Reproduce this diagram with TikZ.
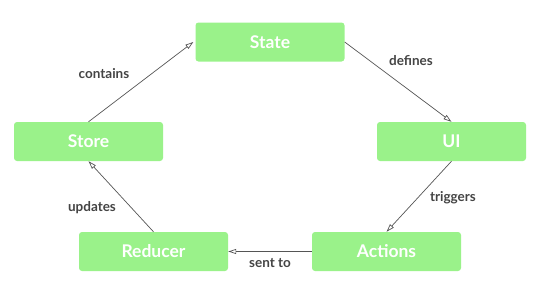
\documentclass[tikz,border=0pt]{standalone}
\usepackage{fontspec}
\setmainfont{Lato}
\usetikzlibrary{arrows.meta}
\definecolor{boxgreen}{HTML}{9AF28A}
\definecolor{labelgray}{HTML}{444444}
\definecolor{linegray}{HTML}{555555}
\tikzset{
  box/.style={draw=none, fill=boxgreen, rounded corners=3pt, minimum width=149pt, minimum height=39pt, inner sep=0pt, text=white, font=\fontsize{17.5}{20}\selectfont\bfseries},
  conn/.style={draw=linegray, line width=0.7pt, -{Triangle[open, length=8pt, width=5pt]}},
  lbl/.style={text=labelgray, font=\fontsize{13.5}{16}\selectfont\bfseries, inner sep=0pt}
}
\begin{document}
\begin{tikzpicture}[x=1pt,y=-1pt]
\useasboundingbox (0,0) rectangle (541,295);
\node[box] (state) at (270,42) {State};
\node[box] (store) at (88.5,141.5) {Store};
\node[box] (ui) at (451.5,141.5) {UI};
\node[box] (reducer) at (153.5,251.5) {Reducer};
\node[box] (actions) at (386.5,251.5) {Actions};
\draw[conn] (store.north) -- ([xshift=-2pt]state.west);
\draw[conn] (state.east) -- (ui.north);
\draw[conn] (ui.south) -- (actions.north);
\draw[conn] (actions.west) -- (reducer.east);
\draw[conn] (reducer.north) -- (store.south);
\node[lbl] (l1) at (104,74) {contains};
\node[lbl] (l2) at (411,61) {defines};
\node[lbl] (l3) at (453,198) {triggers};
\node[lbl] (l4) at (92,208) {updates};
\node[lbl] (l5) at (270,263) {sent to};
\end{tikzpicture}
\end{document}
